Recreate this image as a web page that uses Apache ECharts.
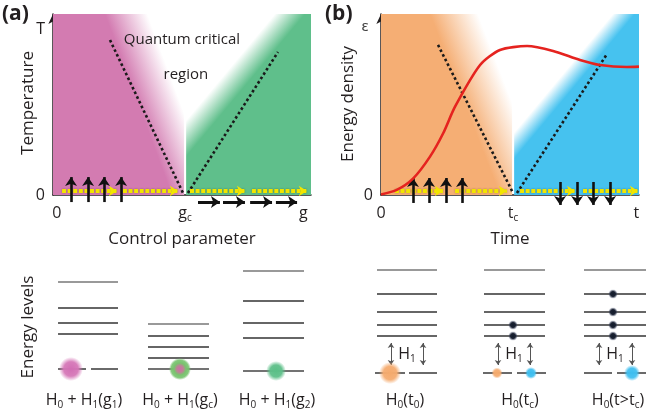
<!DOCTYPE html>
<html>
<head>
<meta charset="utf-8">
<script src="https://cdn.jsdelivr.net/npm/echarts@6/dist/echarts.min.js"></script>
<style>
html, body { margin: 0; padding: 0; background: #fff; }
#graph { width: 647px; height: 418px; }
</style>
</head>
<body>
<div id="graph"></div>
<script>
"use strict"

// ---------- panel (a): x = control parameter g, y = temperature (both 0..1)
const gC = 0.512;
const critA = [[[0.221, 0.856], [0.504, 0.011]], [[0.523, 0.011], [0.872, 0.790]]];
const flowA = [[0.035, 0.248], [0.271, 0.484], [0.531, 0.744], [0.771, 0.984]];
const spinUpA = [0.070, 0.136, 0.198, 0.264];
const spinRightA = [[0.562, 0.647], [0.659, 0.744], [0.764, 0.849], [0.864, 0.946]];
const xTicksA = [0.015, gC, 0.97];
const xTickTextA = ["{n|0}", "{n|g}{s|c}", "{n|g}"];
const yTicksA = [0, 0.917];
const yTickTextA = ["0", "T"];

// ---------- panel (b): x = time, y = energy density (both 0..1)
const tC = 0.512;
const critB = [[[0.221, 0.829], [0.512, 0.011]], [[0.527, 0.011], [0.876, 0.779]]];
const flowB = [[0.054, 0.240], [0.287, 0.488], [0.539, 0.752], [0.783, 0.996]];
const spinUpB = [0.124, 0.186, 0.252, 0.314];
const spinDownB = [0.694, 0.760, 0.822, 0.888];
const energyT = [0, 0.061, 0.125, 0.190, 0.241, 0.287, 0.384, 0.461, 0.566, 0.667, 0.771, 0.849, 0.953, 1.0];
const energyE = [0.003, 0.028, 0.092, 0.212, 0.341, 0.488, 0.718, 0.801, 0.823, 0.796, 0.746, 0.718, 0.707, 0.709];
const xTicksB = [0, tC, 0.99];
const xTickTextB = ["{n|0}", "{n|t}{s|c}", "{n|t}"];

// ---------- energy level diagrams (x = slot, y = energy above ground)
const levelsA = [[8.7, 6.1, 4.6, 3.5], [4.5, 3.3, 2.2, 1.1], [9.8, 6.8, 4.6, 3.1]];
const spansA = [[0.194, 0.839], [1.161, 1.817], [2.183, 2.839]];
const groundA = [[0.194, 0.495, 0], [0.548, 0.839, 0], [1.161, 1.817, 0], [2.183, 2.839, -0.2]];
const bubblesA = [[0.333, 0], [1.505, 0], [2.538, -0.2]];
const captionsA = [[0.473, -3.1], [1.505, -3.1], [2.548, -3.1]];
const captionTextA = ["{n|H}{s|0}{n| + H}{s|1}{n|(g}{s|1}{n|)}", "{n|H}{s|0}{n| + H}{s|1}{n|(g}{s|c}{n|)}", "{n|H}{s|0}{n| + H}{s|1}{n|(g}{s|2}{n|)}"];

const levelsB = [[10.3, 7.9, 6.1, 4.8, 3.7], [10.3, 7.9, 6.1, 4.8, 3.7], [10.3, 7.9, 6.1, 4.8, 3.7]];
const spansB = [[0.24, 0.84], [1.31, 1.92], [2.31, 2.93]];
const groundB = [[0.22, 0.52, 0], [0.56, 0.84, 0], [1.30, 1.59, 0], [1.64, 1.93, 0], [2.31, 2.59, 0], [2.64, 2.93, 0]];
const bubblesB = [[0.37, 0], [1.44, 0], [1.78, 0], [2.79, 0]];
const excitedB = [[1.60, 4.8], [1.60, 3.7], [2.60, 7.9], [2.60, 6.1], [2.60, 4.8], [2.60, 3.7]];
const couplingB = [0.38, 0.70, 1.45, 1.77, 2.46, 2.79];
const couplingY = [0.8, 3.0];
const h1B = [[0.54, 1.9], [1.61, 1.9], [2.62, 1.9]];
const captionsB = [[0.52, -2.7], [1.67, -2.7], [2.65, -2.7]];
const captionTextB = ["{n|H}{s|0}{n|(t}{s|0}{n|)}", "{n|H}{s|0}{n|(t}{s|c}{n|)}", "{n|H}{s|0}{n|(t>t}{s|c}{n|)}"];

// ---------- styles
const FONT = "Open Sans";
const INK = "#231f20";
const MAGENTA = "#d37bb1", GREEN = "#5fbf8b", ORANGE = "#f5ae74", BLUE = "#46c2ef";
const rich = {
    n: { fontSize: 16, fontFamily: FONT, color: INK, lineHeight: 20 },
    s: { fontSize: 10, fontFamily: FONT, color: INK, padding: [10, 0, 0, 0], lineHeight: 20 },
    q: { fontSize: 15, fontFamily: FONT, color: INK }
};

function shade(xi, box, from, along, to, c0, c1)
{
    return {
        type: "custom", xAxisIndex: xi, yAxisIndex: xi, z: 1, silent: true,
        data: [[0, 0]],
        renderItem: (params, api) =>
        {
            const pts = box.map(p => api.coord(p));
            const a = api.coord(from), b = api.coord(along), c = api.coord(to);
            let dx = b[0] - a[0], dy = b[1] - a[1];
            const len = Math.hypot(dx, dy);
            dx /= len; dy /= len;
            const nx = -dy, ny = dx;
            const t = (c[0] - a[0]) * nx + (c[1] - a[1]) * ny;
            const fill = new echarts.graphic.LinearGradient(a[0], a[1], a[0] + nx * t, a[1] + ny * t,
                [{ offset: 0, color: c0 }, { offset: 1, color: c1 }], true);
            return { type: "polygon", shape: { points: pts }, style: { fill: fill } };
        }
    };
}

function arrows(xi, segs, color, width, size, extra)
{
    return Object.assign({
        type: "lines", coordinateSystem: "cartesian2d", xAxisIndex: xi, yAxisIndex: xi,
        z: 4, silent: true, clip: false,
        symbol: ["none", "arrow"], symbolSize: size,
        lineStyle: { color: color, width: width, opacity: 1, curveness: 0 },
        data: segs.map(s => ({ coords: s }))
    }, extra || {});
}

function dotted(xi, segs)
{
    return {
        type: "lines", coordinateSystem: "cartesian2d", xAxisIndex: xi, yAxisIndex: xi,
        z: 3, silent: true, symbol: "none",
        lineStyle: { color: "#1a1a1a", width: 2.6, type: [2.6, 2.6], opacity: 1 },
        data: segs.map(s => ({ coords: s }))
    };
}

function levelLines(xi, levels, spans, ground)
{
    const data = [];
    levels.forEach((lv, i) => lv.forEach((e, k) =>
        data.push({ coords: [[spans[i][0], e], [spans[i][1], e]], lineStyle: { color: k === 0 ? "#777" : "#333" } })));
    ground.forEach(g => data.push({ coords: [[g[0], g[2]], [g[1], g[2]]], lineStyle: { color: "#444" } }));
    return {
        type: "lines", coordinateSystem: "cartesian2d", xAxisIndex: xi, yAxisIndex: xi,
        z: 2, silent: true, clip: false, symbol: "none",
        lineStyle: { width: 1.6, opacity: 1 },
        data: data
    };
}

function blob(stops)
{
    return new echarts.graphic.RadialGradient(0.5, 0.5, 0.5, stops.map(s => ({ offset: s[0], color: s[1] })));
}

function textMarks(xi, pts, texts)
{
    return {
        type: "scatter", xAxisIndex: xi, yAxisIndex: xi, z: 6, silent: true, symbolSize: 0, clip: false,
        itemStyle: { color: "rgba(0,0,0,0)", opacity: 1 },
        label: {
            show: true, position: "inside", color: INK, opacity: 1, textBorderWidth: 0,
            formatter: p => texts[p.dataIndex], rich: rich
        },
        data: pts
    };
}

function topXAxis(ticks, texts, name, gi)
{
    return {
        gridIndex: gi, type: "value", min: 0, max: 1,
        axisLine: { show: true, onZero: false, lineStyle: { color: INK, width: 1.5 } },
        axisTick: { show: false }, splitLine: { show: false },
        axisLabel: { customValues: ticks, margin: 8, formatter: v => texts[ticks.indexOf(v)], rich: rich },
        name: name, nameLocation: "middle", nameGap: 36,
        nameTextStyle: { fontSize: 17, fontFamily: FONT, color: INK }
    };
}

function topYAxis(ticks, texts, gi)
{
    return {
        gridIndex: gi, type: "value", min: 0, max: 1,
        axisLine: { show: true, onZero: false, symbol: ["none", "arrow"], symbolSize: [7, 10], lineStyle: { color: INK, width: 1.5 } },
        axisTick: { show: false }, splitLine: { show: false },
        axisLabel: { customValues: ticks, margin: 8, fontSize: 16, fontFamily: FONT, color: INK, formatter: v => texts[ticks.indexOf(v)] }
    };
}

const hidden = gi => ({ gridIndex: gi, type: "value", show: false, splitLine: { show: false } });
const flowStyle = { lineStyle: { color: "#f2e500", width: 4, type: [4, 1.6], opacity: 1, shadowColor: "rgba(0,0,0,0.35)", shadowBlur: 2 } };

const series = [
    // panel (a) background
    shade(0, [[0, 0], [gC - 0.004, 0], [gC - 0.004, 1], [0, 1]], [0.201, 1], [0.461, 0], [0.366, 1], MAGENTA, "#ffffff"),
    shade(0, [[gC + 0.004, 0], [1, 0], [1, 1], [gC + 0.004, 1]], [0.860, 1], [0.550, 0.470], [0.977, 1], "#ffffff", GREEN),
    dotted(0, critA),
    arrows(0, flowA.map(f => [[f[0], 0.022], [f[1], 0.022]]), "#f2e500", 4, 8, flowStyle),
    arrows(0, spinUpA.map(x => [[x, -0.039], [x, 0.099]]), "#111", 2.6, 9),
    arrows(0, spinRightA.map(s => [[s[0], -0.039], [s[1], -0.039]]), "#111", 3, 9),
    textMarks(0, [[0.5, 0.856], [0.515, 0.663]], ["{q|Quantum critical}", "{q|region}"]),

    // panel (b) background
    shade(1, [[0, 0], [tC - 0.004, 0], [tC - 0.004, 1], [0, 1]], [0.190, 1], [0.461, 0], [0.376, 1], ORANGE, "#ffffff"),
    shade(1, [[tC + 0.004, 0], [1, 0], [1, 1], [tC + 0.004, 1]], [0.899, 1], [0.589, 0.470], [0.984, 1], "#ffffff", BLUE),
    dotted(1, critB),
    arrows(1, flowB.map(f => [[f[0], 0.022], [f[1], 0.022]]), "#f2e500", 4, 8, flowStyle),
    arrows(1, spinUpB.map(x => [[x, -0.044], [x, 0.094]]), "#111", 2.6, 9),
    arrows(1, spinDownB.map(x => [[x, 0.072], [x, -0.055]]), "#111", 2.6, 9),
    {
        type: "line", xAxisIndex: 1, yAxisIndex: 1, z: 5, silent: true,
        data: energyT.map((t, i) => [t, energyE[i]]),
        smooth: 0.25, symbol: "none",
        lineStyle: { color: "#e5231f", width: 2.6 }
    },

    // energy levels, left
    levelLines(2, levelsA, spansA, groundA),
    {
        type: "scatter", xAxisIndex: 2, yAxisIndex: 2, z: 5, silent: true,
        data: bubblesA.map((p, i) => ({
            value: p,
            symbolSize: [24, 22, 20][i],
            itemStyle: { opacity: 1, color: [
                blob([[0, "rgba(210,110,180,1)"], [0.6, "rgba(214,120,184,0.95)"], [1, "rgba(214,120,184,0)"]]),
                blob([[0, "rgba(205,110,170,1)"], [0.3, "rgba(190,130,150,1)"], [0.55, "rgba(120,195,110,1)"], [0.8, "rgba(120,195,110,0.9)"], [1, "rgba(120,195,110,0)"]]),
                blob([[0, "rgba(90,192,135,1)"], [0.6, "rgba(95,192,138,0.95)"], [1, "rgba(95,192,138,0)"]])
            ][i] }
        }))
    },
    textMarks(2, captionsA, captionTextA),

    // energy levels, right
    levelLines(3, levelsB, spansB, groundB),
    arrows(3, couplingB.map(x => [[x, couplingY[0]], [x, couplingY[1]]]), "#555", 1, 5, { symbol: ["arrow", "arrow"] }),
    {
        type: "scatter", xAxisIndex: 3, yAxisIndex: 3, z: 5, silent: true,
        data: bubblesB.map((p, i) => ({
            value: p,
            symbolSize: [22, 11, 12, 16][i],
            itemStyle: { opacity: 1, color: i === 0 || i === 1
                ? blob([[0, "rgba(245,170,108,1)"], [0.6, "rgba(245,172,112,0.95)"], [1, "rgba(245,172,112,0)"]])
                : blob([[0, "rgba(60,190,240,1)"], [0.6, "rgba(66,192,240,0.95)"], [1, "rgba(66,192,240,0)"]]) }
        }))
    },
    {
        type: "scatter", xAxisIndex: 3, yAxisIndex: 3, z: 5, silent: true,
        data: excitedB, symbolSize: 9,
        itemStyle: { opacity: 1, color: blob([[0, "#111a2a"], [0.55, "#1c2333"], [1, "rgba(60,70,100,0.15)"]]) }
    },
    textMarks(3, h1B, ["{n|H}{s|1}", "{n|H}{s|1}", "{n|H}{s|1}"]),
    textMarks(3, captionsB, captionTextB)
];

const vText = (x, y, text) => ({
    type: "text", x: x, y: y, rotation: Math.PI / 2,
    style: { text: text, font: "17px 'Open Sans'", fill: INK, align: "center", verticalAlign: "middle" }
});

const option = {
    animation: false,
    backgroundColor: "#fff",
    grid: [
        { left: 53, top: 14, width: 258, height: 181, outerBoundsMode: "none" },
        { left: 381, top: 14, width: 258, height: 181, outerBoundsMode: "none" },
        { left: 40, top: 259, width: 279, height: 120, outerBoundsMode: "none" },
        { left: 353, top: 263, width: 295, height: 120, outerBoundsMode: "none" }
    ],
    xAxis: [
        topXAxis(xTicksA, xTickTextA, "Control parameter", 0),
        topXAxis(xTicksB, xTickTextB, "Time", 1),
        Object.assign(hidden(2), { min: 0, max: 3 }),
        Object.assign(hidden(3), { min: 0, max: 2.95 })
    ],
    yAxis: [
        topYAxis(yTicksA, yTickTextA, 0),
        topYAxis([0], ["0"], 1),
        Object.assign(hidden(2), { min: -1, max: 11 }),
        Object.assign(hidden(3), { min: -1, max: 11 })
    ],
    graphic: [
        { type: "text", left: 2, top: 4, style: { text: "(a)", font: "bold 21px 'Open Sans'", fill: INK } },
        { type: "text", left: 325, top: 4, style: { text: "(b)", font: "bold 21px 'Open Sans'", fill: INK } },
        { type: "text", x: 365, y: 27, style: { text: "ε", font: "15px 'Noto Sans'", fill: "#444", align: "center", verticalAlign: "middle" } },
        vText(28, 103, "Temperature"),
        vText(348, 104, "Energy density"),
        vText(28, 327, "Energy levels")
    ],
    series: series
};

const myChart = echarts.init(document.getElementById("graph"), null, { renderer: "canvas" });
myChart.setOption(option);
</script>
</body>
</html>
